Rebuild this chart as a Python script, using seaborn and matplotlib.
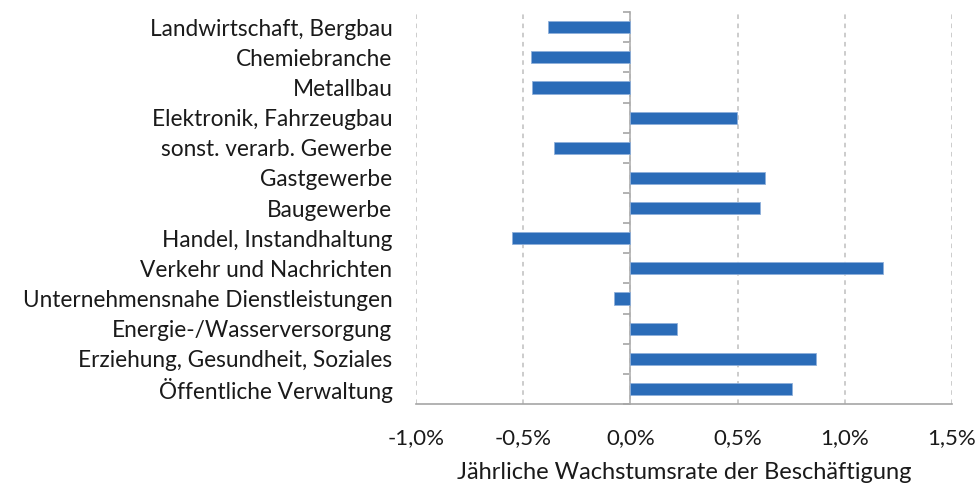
import matplotlib
matplotlib.use("Agg")
import matplotlib.pyplot as plt
import seaborn as sns
import pandas as pd
from matplotlib.ticker import FuncFormatter, FixedLocator

# sectors, top to bottom as in the chart
sectors = [
    "Landwirtschaft, Bergbau",
    "Chemiebranche",
    "Metallbau",
    "Elektronik, Fahrzeugbau",
    "sonst. verarb. Gewerbe",
    "Gastgewerbe",
    "Baugewerbe",
    "Handel, Instandhaltung",
    "Verkehr und Nachrichten",
    "Unternehmensnahe Dienstleistungen",
    "Energie-/Wasserversorgung",
    "Erziehung, Gesundheit, Soziales",
    "Öffentliche Verwaltung",
]
# annual employment growth rate in percent
growth = [-0.385, -0.463, -0.460, 0.498, -0.356, 0.628, 0.604,
          -0.554, 1.180, -0.078, 0.215, 0.864, 0.753]
x_ticks = [-1.0, -0.5, 0.0, 0.5, 1.0, 1.5]
x_label = "Jährliche Wachstumsrate der Beschäftigung"

BAR = "#2B6CB8"
AXIS = "#A6A6A6"
TXT = "#1a1a1a"

sns.set_style("white")
plt.rcParams["font.family"] = ["Lato", "DejaVu Sans"]

df = pd.DataFrame({"sector": sectors, "growth": growth})

fig = plt.figure(figsize=(9.78, 4.86), dpi=100)
ax = fig.add_axes([0.4254, 0.1687, 0.548, 0.8063])

sns.barplot(data=df, x="growth", y="sector", orient="h", color=BAR,
            saturation=1, width=0.4, edgecolor="#8FB0DA", linewidth=0.6, ax=ax)

ax.set_xlim(x_ticks[0], x_ticks[-1])
ax.set_ylim(len(sectors) - 0.5, -0.5)
ax.xaxis.set_major_locator(FixedLocator(x_ticks))
ax.xaxis.set_major_formatter(FuncFormatter(lambda v, p: f"{v:.1f}%".replace(".", ",")))
ax.grid(axis="x", color="#BFBFBF", linestyle=(0, (3, 3)), linewidth=1.1)
ax.set_axisbelow(True)

for s in ["top", "right", "left"]:
    ax.spines[s].set_visible(False)
ax.spines["bottom"].set_color(AXIS)
ax.spines["bottom"].set_linewidth(1.2)
ax.tick_params(axis="x", direction="out", length=5, width=1.2, color=AXIS,
               labelsize=16, labelcolor=TXT, pad=12)
ax.tick_params(axis="y", length=0, labelsize=16.3, labelcolor=TXT, pad=17)
ax.set_ylabel("")
ax.set_xlabel(x_label, fontsize=17, color=TXT, labelpad=10)

# category axis crossing at zero, with separator ticks between categories
zero_frac = (0 - x_ticks[0]) / (x_ticks[-1] - x_ticks[0])
sec = ax.secondary_yaxis(zero_frac)
sec.spines["left"].set_color(AXIS)
sec.spines["left"].set_linewidth(1.2)
sec.set_yticks([i - 0.5 for i in range(len(sectors) + 1)])
sec.set_yticklabels([])
sec.tick_params(axis="y", direction="out", length=5, width=1.2, color=AXIS)

fig.savefig("out.png", dpi=100)
